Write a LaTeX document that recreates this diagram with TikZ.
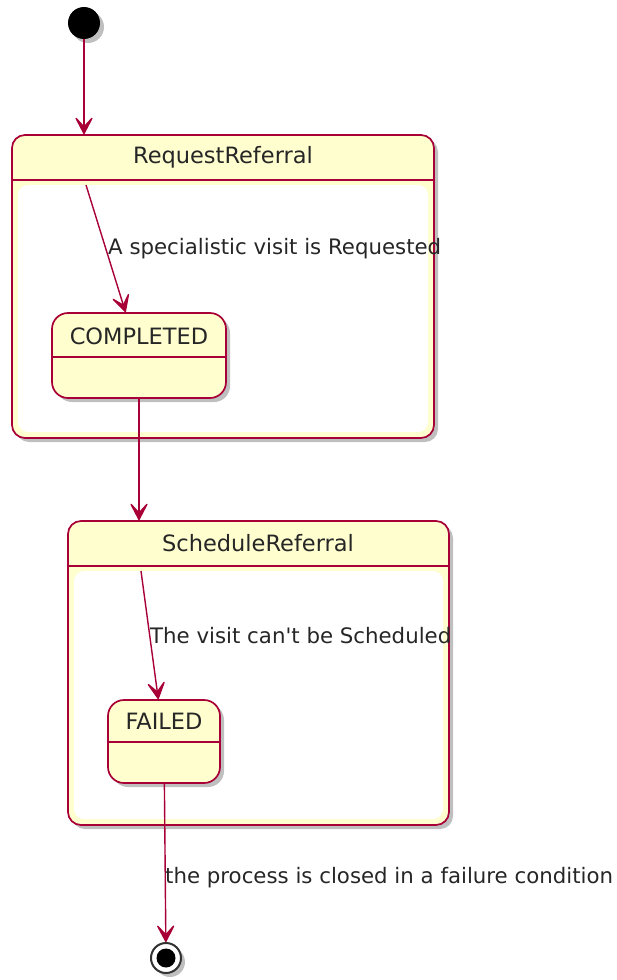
\documentclass[tikz,border=0pt]{standalone}
\usepackage{fontspec}
\setmainfont{DejaVu Sans}
\usetikzlibrary{positioning,shadows,arrows.meta}

\definecolor{umlborder}{HTML}{A80036}
\definecolor{umlfill}{HTML}{FEFECE}

\tikzset{
  umlshadow/.style={drop shadow={shadow xshift=4pt, shadow yshift=-4pt, fill=black, opacity=0.25}},
  trans/.style={draw=umlborder, line width=1.4pt,
    -{Stealth[length=21pt,width=22pt,inset=12pt,round]}},
  composite/.style={draw=umlborder, fill=umlfill, line width=1.7pt, rounded corners=13pt,
    inner sep=0pt, umlshadow},
  region/.style={fill=white, rounded corners=10pt, inner sep=0pt},
  simple/.style={draw=umlborder, fill=umlfill, line width=1.7pt, rounded corners=16pt,
    inner sep=0pt, umlshadow},
  title/.style={font=\fontsize{22.5}{26}\selectfont, text=black!85},
  lbl/.style={font=\fontsize{21.3}{24}\selectfont, text=black!85, inner sep=0pt, anchor=west},
  startdot/.style={circle, fill=black, minimum size=32pt, inner sep=0pt, umlshadow},
}

\begin{document}
\begin{tikzpicture}[x=1pt, y=-1pt]
  \useasboundingbox (0,0) rectangle (616,980);

  % Define nodes
  \node[startdot] (start) at (84,23) {};

  \node[composite, minimum width=422pt, minimum height=303pt] (reqref) at (223,286.5) {};
  \node[region, minimum width=410pt, minimum height=247pt] (reqregion) at (223,308.5) {};
  \draw[umlborder, line width=1.7pt] (reqref.west |- 0,180) -- (reqref.east |- 0,180);
  \node[title] (reqtitle) at (223,157) {RequestReferral};

  \node[simple, minimum width=174pt, minimum height=85pt] (completed) at (139,355.5) {};
  \draw[umlborder, line width=1.7pt] (completed.west |- 0,357) -- (completed.east |- 0,357);
  \node[title] (comptitle) at (139,336) {COMPLETED};

  \node[composite, minimum width=381pt, minimum height=304pt] (schedref) at (258.5,673) {};
  \node[region, minimum width=369pt, minimum height=248pt] (schedregion) at (258.5,695) {};
  \draw[umlborder, line width=1.7pt] (schedref.west |- 0,566) -- (schedref.east |- 0,566);
  \node[title] (schedtitle) at (258,543) {ScheduleReferral};

  \node[simple, minimum width=112pt, minimum height=83pt] (failed) at (164,741.5) {};
  \draw[umlborder, line width=1.7pt] (failed.west |- 0,742) -- (failed.east |- 0,742);
  \node[title] (failtitle) at (164,721) {FAILED};

  \node[circle, draw=black!80, line width=2pt, fill=white, minimum size=30pt, inner sep=0pt,
    umlshadow] (stop) at (166,958) {};
  \node[circle, fill=black, minimum size=19pt, inner sep=0pt] (stopdot) at (stop) {};

  \coordinate (reqin) at (86,185);
  \coordinate (schedin) at (141,571);

  % Connect the nodes
  \draw[trans] (start) -- (start |- reqref.north);
  \draw[trans] (reqin) -- (completed);
  \draw[trans] (completed) -- (completed |- schedref.north);
  \draw[trans] (schedin) -- (failed);
  \draw[trans] (failed) -- (stop);

  % Labels
  \node[lbl] (reqlbl) at (108,249) {A specialistic visit is Requested};
  \node[lbl] (schedlbl) at (150,636) {The visit can\textquotesingle t be Scheduled};
  \node[lbl] (stoplbl) at (165,878) {the process is closed in a failure condition};
\end{tikzpicture}
\end{document}
